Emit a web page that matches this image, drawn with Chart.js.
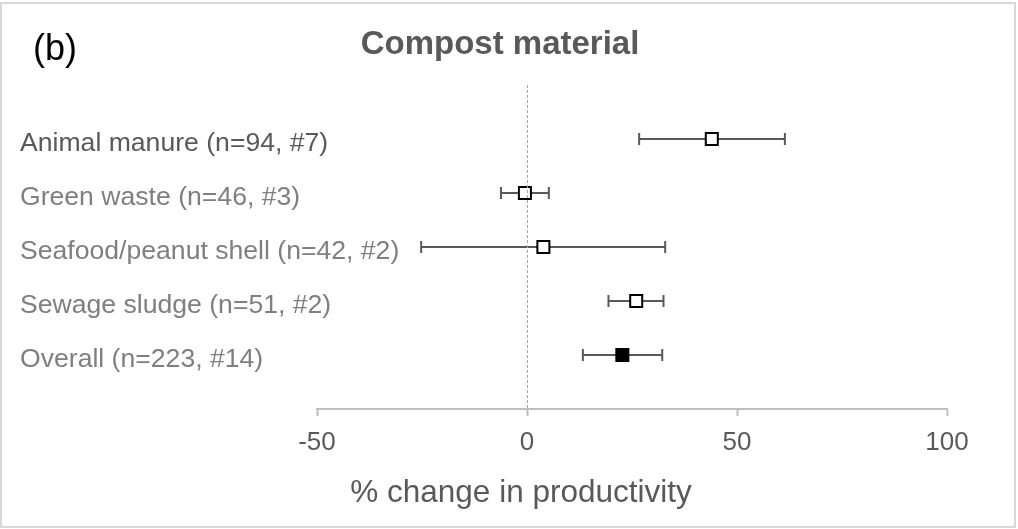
<!DOCTYPE html>
<html>
<head>
<meta charset="utf-8">
<script src="https://cdn.jsdelivr.net/npm/chart.js@4"></script>
<style>
  html, body { margin: 0; padding: 0; background: #fff; }
  #wrap { width: 1018px; height: 529px; position: relative; }
</style>
</head>
<body>
<div id="wrap"><canvas id="forest"></canvas></div>
<script>
const categories = [
  "Animal manure (n=94, #7)",
  "Green waste (n=46, #3)",
  "Seafood/peanut shell (n=42, #2)",
  "Sewage sludge (n=51, #2)",
  "Overall (n=223, #14)"
];
const meanChange = [44.0, -0.5, 3.9, 26.0, 22.7];
const lowerCI = [26.7, -6.2, -25.2, 19.4, 13.3];
const upperCI = [61.4, 5.2, 32.9, 32.5, 32.2];
const xTicks = [-50, 0, 50, 100];

const FONT = "'Liberation Sans', Arial, sans-serif";
const DARK = "#595959";
const PLOT_LEFT = 317;
const LABEL_X = 20;

// blank rows above and below keep the rows spaced like the original layout
const rowLabels = ["", ...categories, ""];
const isOverall = categories.map(c => c.startsWith("Overall"));

// frame, panel letter, heading and axis caption
const decor = {
  id: "decor",
  beforeDraw(chart) {
    const ctx = chart.ctx;
    ctx.save();
    ctx.fillStyle = "#fff";
    ctx.fillRect(0, 0, chart.width, chart.height);
    ctx.strokeStyle = "#d9d9d9";
    ctx.lineWidth = 2;
    ctx.strokeRect(1, 3, 1014, 524);
    ctx.restore();
  },
  afterDraw(chart) {
    const ctx = chart.ctx;
    ctx.save();
    ctx.textBaseline = "alphabetic";
    ctx.fillStyle = "#000";
    ctx.textAlign = "left";
    ctx.font = "36px " + FONT;
    ctx.fillText("(b)", 33, 60);

    ctx.fillStyle = DARK;
    ctx.textAlign = "center";
    ctx.font = "bold 33px " + FONT;
    ctx.fillText("Compost material", 500, 54);

    ctx.font = "31.5px " + FONT;
    ctx.fillText("% change in productivity", 521, 502);
    ctx.restore();
  }
};

const whiskers = categories.map((c, i) => ({
  data: [{ x: lowerCI[i], y: c }, { x: upperCI[i], y: c }],
  showLine: true,
  borderColor: DARK,
  borderWidth: 2,
  pointRadius: 0,
  clip: false
}));

const caps = {
  data: categories.flatMap((c, i) => [{ x: lowerCI[i], y: c }, { x: upperCI[i], y: c }]),
  pointStyle: "line",
  rotation: 90,
  pointRadius: 6,
  borderColor: DARK,
  pointBorderWidth: 2,
  clip: false
};

const means = {
  data: categories.map((c, i) => ({ x: meanChange[i], y: c })),
  pointStyle: "rect",
  pointRadius: 8.5,
  pointBorderWidth: 2,
  pointBorderColor: "#000",
  pointBackgroundColor: isOverall.map(o => o ? "#000" : "#fff"),
  clip: false
};

new Chart(document.getElementById("forest"), {
  type: "scatter",
  data: { labels: rowLabels, datasets: [means, caps, ...whiskers] },
  options: {
    responsive: true,
    maintainAspectRatio: false,
    animation: false,
    events: [],
    layout: { padding: { left: PLOT_LEFT, right: 71, top: 85, bottom: 60 } },
    plugins: { legend: { display: false }, tooltip: { enabled: false } },
    scales: {
      x: {
        type: "linear",
        min: -50,
        max: 100,
        afterBuildTicks: s => { s.ticks = xTicks.map(v => ({ value: v })); },
        afterFit: s => { s.height = 60; },
        grid: {
          z: 1,
          drawOnChartArea: true,
          color: c => (c.tick && c.tick.value === 0 ? "#a6a6a6" : "transparent"),
          lineWidth: 1,
          tickColor: "#bfbfbf",
          tickLength: 7,
          tickWidth: 2
        },
        border: { z: 1, color: "#bfbfbf", width: 2, dash: [3, 2] },
        ticks: {
          color: DARK,
          padding: 11,
          font: { family: FONT, size: 26 },
          maxRotation: 0
        }
      },
      y: {
        type: "category",
        labels: rowLabels,
        offset: false,
        afterFit: s => { s.width = 0; },
        grid: { display: false },
        border: { display: false },
        ticks: {
          autoSkip: false,
          mirror: true,
          padding: LABEL_X - PLOT_LEFT,
          labelOffset: 5,
          color: c => (c.index === 1 ? DARK : "#7f7f7f"),
          font: { family: FONT, size: 26.6 }
        }
      }
    }
  },
  plugins: [decor]
});
</script>
</body>
</html>
